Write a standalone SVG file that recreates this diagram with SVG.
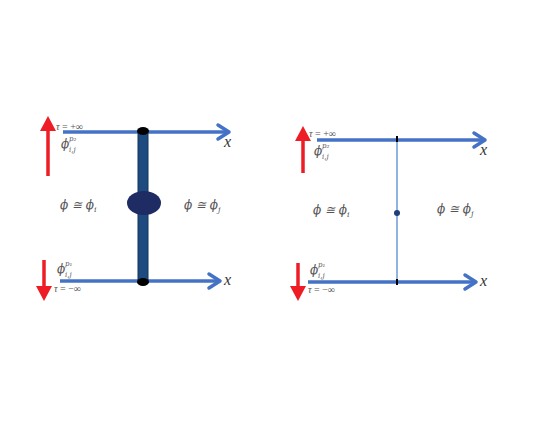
<svg xmlns="http://www.w3.org/2000/svg" width="550" height="425" viewBox="0 0 550 425">
<style>
.ax{stroke:#4472c4;stroke-width:3.5;fill:none}
.ah{fill:none;stroke:#4472c4;stroke-width:3.5;stroke-linecap:round;stroke-linejoin:round}
.red{stroke:#ee1c25;stroke-width:3.5;fill:none}
.rh{fill:#ee1c25}
.t{font-family:"Liberation Serif","DejaVu Serif",serif;fill:#555}
.p{font-family:"DejaVu Serif","Liberation Serif",serif;fill:#555;font-style:italic}
.s{font-size:10px}
.m{font-size:12px}
.sc{font-size:7px}
.x{font-size:16px;fill:#333;font-style:italic}
</style>
<rect width="550" height="425" fill="#fff"/>
<g id="connectors">
  <line class="ax" x1="63" y1="132" x2="229" y2="132"/>
  <polyline class="ah" points="218,125 229,132 218,139"/>
  <line class="ax" x1="60" y1="281" x2="220" y2="281"/>
  <polyline class="ah" points="209,274 220,281 209,288"/>
  <line class="ax" x1="317" y1="140" x2="485" y2="140"/>
  <polyline class="ah" points="474,133 485,140 474,147"/>
  <line class="ax" x1="308" y1="282" x2="476" y2="282"/>
  <polyline class="ah" points="465,275 476,282 465,289"/>
</g>
<g id="left-vertex">
  <rect x="138" y="131" width="10" height="151" fill="#1d4a7f" stroke="#15335a" stroke-width="1"/>
  <ellipse cx="143" cy="131" rx="6" ry="4" fill="#000"/>
  <ellipse cx="143" cy="282" rx="6" ry="4" fill="#000"/>
  <ellipse cx="144" cy="203" rx="17" ry="12" fill="#1f2b63"/>
</g>
<g id="right-vertex">
  <line x1="397" y1="139" x2="397" y2="282" stroke="#6d9ad6" stroke-width="1.5"/>
  <rect x="396" y="136" width="2" height="6" fill="#000"/>
  <rect x="396" y="279" width="2" height="6" fill="#000"/>
  <circle cx="397" cy="213" r="3" fill="#1f3f75"/>
</g>
<g id="left-arrows">
  <line class="red" x1="48" y1="176" x2="48" y2="128"/>
  <polygon class="rh" points="40,131 48,116 56,131"/>
  <line class="red" x1="44" y1="260" x2="44" y2="288"/>
  <polygon class="rh" points="36,286 44,301 52,286"/>
</g>
<g id="right-arrows">
  <line class="red" x1="303" y1="173" x2="303" y2="138"/>
  <polygon class="rh" points="295,141 303,126 311,141"/>
  <line class="red" x1="298" y1="263" x2="298" y2="288"/>
  <polygon class="rh" points="290,286 298,301 306,286"/>
</g>
<g id="left-labels">
  <text class="t s" x="56" y="130"><tspan font-style="italic">τ</tspan> = +∞</text>
  <text class="p m" x="61" y="148">ϕ</text>
  <text class="p sc" x="69" y="141">p₂</text>
  <text class="p sc" x="69" y="152">i,j</text>
  <text class="t x" x="224" y="147">x</text>
  <text class="p m" x="60" y="209">ϕ ≅ ϕ<tspan font-size="8" dy="3">i</tspan></text>
  <text class="p m" x="184" y="209">ϕ ≅ ϕ<tspan font-size="8" dy="3">j</tspan></text>
  <text class="p m" x="57" y="273">ϕ</text>
  <text class="p sc" x="65" y="266">p₁</text>
  <text class="p sc" x="65" y="277">i,j</text>
  <text class="t s" x="54" y="292"><tspan font-style="italic">τ</tspan> = −∞</text>
  <text class="t x" x="224" y="285">x</text>
</g>
<g id="right-labels">
  <text class="t s" x="309" y="137"><tspan font-style="italic">τ</tspan> = +∞</text>
  <text class="p m" x="314" y="155">ϕ</text>
  <text class="p sc" x="322" y="148">p₂</text>
  <text class="p sc" x="322" y="159">i,j</text>
  <text class="t x" x="480" y="155">x</text>
  <text class="p m" x="313" y="214">ϕ ≅ ϕ<tspan font-size="8" dy="3">i</tspan></text>
  <text class="p m" x="437" y="213">ϕ ≅ ϕ<tspan font-size="8" dy="3">j</tspan></text>
  <text class="p m" x="310" y="274">ϕ</text>
  <text class="p sc" x="318" y="267">p₁</text>
  <text class="p sc" x="318" y="278">i,j</text>
  <text class="t s" x="308" y="293"><tspan font-style="italic">τ</tspan> = −∞</text>
  <text class="t x" x="480" y="286">x</text>
</g>
</svg>
